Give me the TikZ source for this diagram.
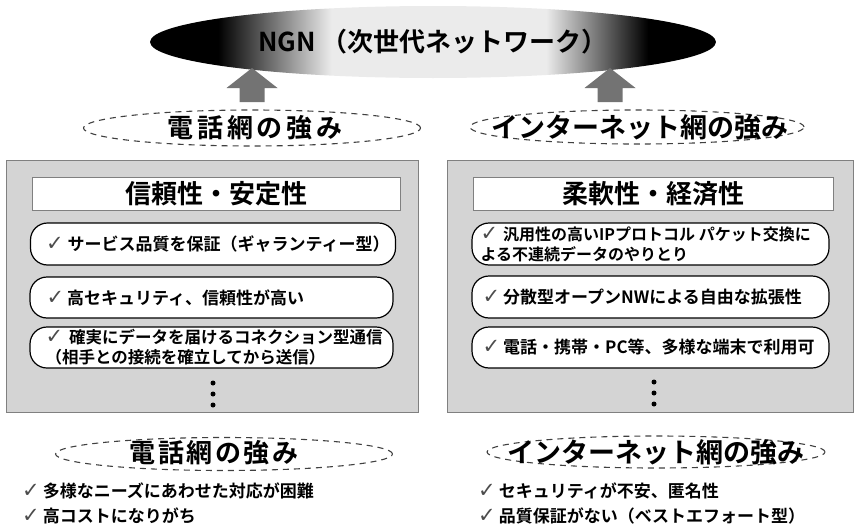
\documentclass[tikz,border=0pt]{standalone}
\usepackage{fontspec}
\setmainfont{Noto Sans CJK JP}[BoldFont={* Bold}]
\newfontfamily\symfont{DejaVu Sans}
\usetikzlibrary{shapes.geometric}
\pgfdeclarehorizontalshading{ngnshade}{100bp}{color(0bp)=(black); color(31bp)=(black); color(41bp)=(black!8); color(60bp)=(black!8); color(69bp)=(black); color(100bp)=(black)}
\newcommand{\ck}{{\symfont\mdseries\fontsize{21}{20}\selectfont\color{black!70}✓}}
\begin{document}
\begin{tikzpicture}[x=1pt,y=-1pt,font=\bfseries,
  panel/.style={draw=black!50, line width=0.8pt, fill=black!17, anchor=north west},
  titlebox/.style={draw=black!50, line width=0.8pt, fill=white, font=\bfseries\fontsize{26}{26}\selectfont},
  pill/.style={draw=black, line width=1.2pt, fill=white, rounded corners=17pt},
  dashell/.style={ellipse, draw=black!75, dash pattern=on 6pt off 5pt, line width=1.1pt, inner sep=0},
  headtext/.style={inner sep=0, font=\bfseries\fontsize{27}{27}\selectfont},
  blockarrow/.style={fill=black!55},
  pilltext/.style={anchor=west, align=left, inner sep=0, font=\bfseries\fontsize{17}{20}\selectfont},
  dotmark/.style={circle, fill=black, inner sep=0, minimum size=5pt}
]
\useasboundingbox (0,0) rectangle (854,530);

% NGN ellipse
\node[ellipse, minimum width=566pt, minimum height=72pt, inner sep=0, shading=ngnshade,
      font=\bfseries\fontsize{26}{26}\selectfont] (ngn) at (433,42) {NGN （次世代ネットワーク）};

% block arrows
\fill[blockarrow, shift={(252,0)}] (-12.5,102) -- (-12.5,88) -- (-25.5,88) -- (0,68) -- (25.5,88) -- (12.5,88) -- (12.5,102) -- cycle;
\fill[blockarrow, shift={(610,0)}] (-12.5,102) -- (-12.5,88) -- (-25.5,88) -- (0,68) -- (25.5,88) -- (12.5,88) -- (12.5,102) -- cycle;

% top dashed ellipses
\node[dashell, minimum width=337pt, minimum height=36pt] (tle) at (252,128) {};
\node[headtext, font=\bfseries\fontsize{26}{26}\selectfont\addfontfeature{LetterSpace=15}] (tlt) at (255,128) {電話網の強み};
\node[dashell, minimum width=334pt, minimum height=34pt] (tre) at (637,127) {};
\node[headtext] (trt) at (640,127) {インターネット網の強み};

% panels
\node[panel, minimum width=412pt, minimum height=252pt] (lpanel) at (6,160) {};
\node[panel, minimum width=406pt, minimum height=252pt] (rpanel) at (447,160) {};

% title boxes
\node[titlebox, minimum width=368pt, minimum height=33pt] (ltitle) at (216,194) {信頼性・安定性};
\node[titlebox, minimum width=360pt, minimum height=33pt] (rtitle) at (653,193.5) {柔軟性・経済性};

% left pills
\node[pill, minimum width=365pt, minimum height=42pt] (lp1) at (213,244) {};
\node[pilltext] (lp1t) at ([xshift=16pt]lp1.west) {\ck\hspace{4pt}サービス品質を保証（ギャランティー型）};
\node[pill, minimum width=363pt, minimum height=41pt] (lp2) at (211.5,297.5) {};
\node[pilltext] (lp2t) at ([xshift=17pt]lp2.west) {\ck\hspace{3pt}高セキュリティ、信頼性が高い};
\node[pill, minimum width=363pt, minimum height=41pt] (lp3) at (211.5,347.5) {};
\node[pilltext, font=\bfseries\fontsize{16.5}{20}\selectfont] (lp3t) at ([xshift=16pt]lp3.west) {\ck\hspace{6pt}確実にデータを届けるコネクション型通信\\（相手との接続を確立してから送信）};

% right pills
\node[pill, minimum width=357pt, minimum height=42pt] (rp1) at (650.5,244) {};
\node[pilltext, font=\bfseries\fontsize{16}{20}\selectfont] (rp1t) at ([xshift=9pt]rp1.west) {\ck\hspace{5pt}汎用性の高いIPプロトコル パケット交換に\\よる不連続データのやりとり};
\node[pill, minimum width=357pt, minimum height=42pt] (rp2) at (650.5,297) {};
\node[pilltext] (rp2t) at ([xshift=11pt]rp2.west) {\ck\hspace{3pt}分散型オープンNWによる自由な拡張性};
\node[pill, minimum width=357pt, minimum height=41pt] (rp3) at (650.5,347.5) {};
\node[pilltext] (rp3t) at ([xshift=11pt]rp3.west) {\ck\hspace{3pt}電話・携帯・PC等、多様な端末で利用可};

% dots
\node[dotmark] (ld1) at (213,383) {};
\node[dotmark] (ld2) at (213,394) {};
\node[dotmark] (ld3) at (213,405) {};
\node[dotmark] (rd1) at (654,382) {};
\node[dotmark] (rd2) at (654,393) {};
\node[dotmark] (rd3) at (654,404) {};

% bottom dashed ellipses
\node[dashell, minimum width=337pt, minimum height=33pt] (ble) at (224,454) {};
\node[headtext, font=\bfseries\fontsize{26}{26}\selectfont\addfontfeature{LetterSpace=10}] (blt) at (214,453) {電話網の強み};
\node[dashell, minimum width=338pt, minimum height=32pt] (bre) at (656,452) {};
\node[headtext] (brt) at (656,452) {インターネット網の強み};

% bottom lists
\node[pilltext] (bl1) at (22,491) {\ck\hspace{3pt}多様なニーズにあわせた対応が困難};
\node[pilltext] (bl2) at (22,516) {\ck\hspace{3pt}高コストになりがち};
\node[pilltext] (br1) at (478,491) {\ck\hspace{3pt}セキュリティが不安、匿名性};
\node[pilltext] (br2) at (478,516) {\ck\hspace{3pt}品質保証がない（ベストエフォート型）};
\end{tikzpicture}
\end{document}
